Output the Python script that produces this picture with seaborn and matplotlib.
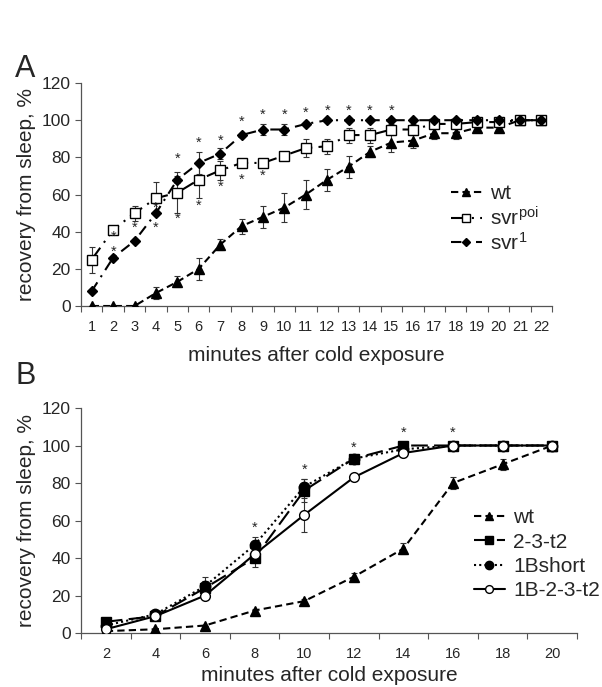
import matplotlib
matplotlib.use('Agg')
import matplotlib.pyplot as plt
import numpy as np
import pandas as pd
import seaborn as sns

# Panel A data
minutes_a = list(range(1, 23))
wt_a = [0, 0, 0, 7, 13, 20, 33, 43, 48, 53, 60, 68, 75, 83, 88, 89, 93, 93, 96, 96, 100, 100]
wt_a_err = [0, 0, 0, 3, 3, 6, 3, 4, 6, 8, 8, 6, 6, 3, 5, 4, 3, 3, 2, 2, 0, 0]
poi_a = [25, 41, 50, 58, 61, 68, 73, 77, 77, 81, 85, 86, 92, 92, 95, 95, 98, 98, 99, 99, 100, 100]
poi_a_err = [7, 2, 4, 9, 11, 10, 5, 2, 2, 2, 5, 4, 4, 4, 3, 3, 2, 2, 1, 1, 0, 0]
svr1_a = [8, 26, 35, 50, 68, 77, 82, 92, 95, 95, 98, 100, 100, 100, 100, 100, 100, 100, 100, 100, 100, 100]
svr1_a_err = [0, 0, 0, 0, 2, 6, 3, 1, 3, 3, 1, 0, 0, 0, 0, 0, 0, 0, 0, 0, 0, 0]
stars_a_x = [2, 2, 3, 4, 4, 5, 5, 6, 6, 7, 7, 8, 8, 9, 9, 10, 11, 12, 13, 14, 15]
stars_a_y = [37, 29, 42, 53, 42, 79, 47, 88, 54, 89, 64, 99, 68, 103, 70, 103, 104, 105, 105, 105, 105]

# Panel B data
minutes_b = [2, 4, 6, 8, 10, 12, 14, 16, 18, 20]
wt_b = [1, 2, 4, 12, 17, 30, 45, 80, 90, 100]
wt_b_err = [0, 0, 0, 1, 1, 2, 3, 3, 3, 0]
t2_b = [6, 9, 24, 40, 76, 93, 100, 100, 100, 100]
t2_b_err = [0, 1, 4, 5, 6, 1, 0, 0, 0, 0]
short_b = [4, 10, 25, 47, 78, 93, 98, 100, 100, 100]
short_b_err = [0, 1, 5, 4, 4, 1, 1, 0, 0, 0]
full_b = [2, 9, 20, 42, 63, 83, 96, 100, 100, 100]
full_b_err = [0, 1, 2, 3, 9, 2, 2, 0, 0, 0]
stars_b_x = [8, 10, 12, 14, 16]
stars_b_y = [56, 87, 99, 107, 107]

sns.set_style('ticks')
plt.rcParams['font.family'] = ['Liberation Sans', 'DejaVu Sans']

fig = plt.figure(figsize=(6.02, 6.87), dpi=100)
ax_a = fig.add_axes([0.1346, 0.5546, 0.7824, 0.3245])
ax_b = fig.add_axes([0.1346, 0.0786, 0.8239, 0.3275])


def draw_series(ax, pos, vals, errs, label, marker, ls, ms, mfc='black'):
    df = pd.DataFrame({'x': pos, 'y': vals})
    sns.lineplot(data=df, x='x', y='y', ax=ax, color='black', marker=marker,
                 linestyle=ls, markersize=ms, markerfacecolor=mfc,
                 markeredgecolor='black', markeredgewidth=1, linewidth=1.5,
                 label=label, zorder=3)
    ax.errorbar(pos, vals, yerr=errs, fmt='none', ecolor='#333333',
                elinewidth=0.8, capsize=2, capthick=0.8, zorder=2)


def style_axis(ax, labels, labelpad):
    n = len(labels)
    ax.set_xlim(-0.5, n - 0.5)
    ax.set_ylim(0, 120)
    ax.set_yticks(range(0, 121, 20))
    ax.set_xticks(range(n))
    ax.set_xticklabels(labels)
    ax.set_xticks(np.arange(-0.5, n, 1), minor=True)
    ax.tick_params(axis='x', which='major', length=0, labelsize=10.5, pad=10)
    ax.tick_params(axis='x', which='minor', length=4, width=0.8, color='#555555')
    ax.tick_params(axis='y', length=4, width=0.8, labelsize=12.5, color='#555555')
    sns.despine(ax=ax)
    for s in ['left', 'bottom']:
        ax.spines[s].set_color('#555555')
        ax.spines[s].set_linewidth(0.9)
    ax.set_ylabel('recovery from sleep, %', fontsize=15)
    ax.set_xlabel('minutes after cold exposure', fontsize=15, labelpad=labelpad)


# Panel A
pos_a = np.arange(len(minutes_a))
draw_series(ax_a, pos_a, wt_a, wt_a_err, 'wt', '^', (0, (3.5, 2)), 7)
draw_series(ax_a, pos_a, poi_a, poi_a_err, r'$\mathregular{svr^{poi}}$', 's',
            (0, (7, 3, 1, 3)), 7.5, mfc='white')
draw_series(ax_a, pos_a, svr1_a, svr1_a_err, r'$\mathregular{svr^{1}}$', 'D',
            (0, (5, 3, 1, 3)), 5.5)
for sx, sy in zip(stars_a_x, stars_a_y):
    ax_a.text(minutes_a.index(sx), sy, '*', ha='center', va='center', fontsize=10.5)
style_axis(ax_a, [str(m) for m in minutes_a], 9)
ax_a.legend(loc='center left', bbox_to_anchor=(0.745, 0.39), frameon=False,
            fontsize=15, handlelength=1.5, handletextpad=0.4, labelspacing=0.12,
            borderpad=0.4, markerscale=0.8)

# Panel B
pos_b = np.arange(len(minutes_b))
draw_series(ax_b, pos_b, wt_b, wt_b_err, 'wt', '^', (0, (3.5, 2)), 6.5)
draw_series(ax_b, pos_b, t2_b, t2_b_err, '2-3-t2', 's', (0, (8, 3)), 7.5)
draw_series(ax_b, pos_b, short_b, short_b_err, '1Bshort', 'o', (0, (1, 1.5)), 7.5)
draw_series(ax_b, pos_b, full_b, full_b_err, '1B-2-3-t2', 'o', '-', 7, mfc='white')
for sx, sy in zip(stars_b_x, stars_b_y):
    ax_b.text(minutes_b.index(sx), sy, '*', ha='center', va='center', fontsize=10.5)
style_axis(ax_b, [str(m) for m in minutes_b], 4)
ax_b.legend(loc='center left', bbox_to_anchor=(0.754, 0.35), frameon=False,
            fontsize=15, handlelength=1.5, handletextpad=0.4, labelspacing=0.25,
            borderpad=0.4, markerscale=0.8)

fig.text(0.025, 0.9, 'A', fontsize=22, va='center')
fig.text(0.025, 0.453, 'B', fontsize=22, va='center')

fig.savefig('out.png', dpi=100)
